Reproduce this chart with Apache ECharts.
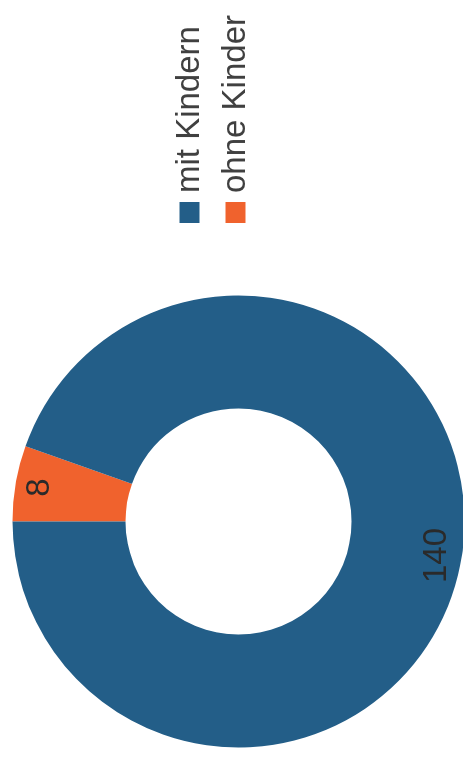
<!DOCTYPE html>
<html>
<head>
<meta charset="utf-8">
<script src="https://cdn.jsdelivr.net/npm/echarts@6/dist/echarts.min.js"></script>
<style>
  html, body { margin: 0; padding: 0; background: #ffffff; overflow: hidden; }
  #wrap { position: relative; width: 463px; height: 759px; overflow: hidden; }
  #chart {
    position: absolute; left: 0; top: 0;
    width: 759px; height: 463px;
    transform-origin: 0 0;
    transform: rotate(-90deg) translate(-759px, 0);
  }
</style>
</head>
<body>
<div id="wrap"><div id="chart"></div></div>
<script>
// Data
const categories = ['mit Kindern', 'ohne Kinder'];
const values = [140, 8];
const colors = ['#235e88', '#f0622d'];

// Drawing order: slice "ohne Kinder" starts at 12 o'clock going clockwise
const drawOrder = [1, 0];
const pieData = drawOrder.map(i => ({
  name: categories[i],
  value: values[i],
  itemStyle: { color: colors[i] }
}));

const chart = echarts.init(document.getElementById('chart'), null, { renderer: 'canvas' });
chart.setOption({
  animation: false,
  backgroundColor: '#ffffff',
  legend: {
    data: categories,
    orient: 'vertical',
    left: 536,
    top: 173,
    padding: 0,
    itemWidth: 21,
    itemHeight: 20,
    itemGap: 13,
    icon: 'rect',
    selectedMode: false,
    textStyle: {
      fontFamily: 'Liberation Sans, Arial, sans-serif',
      fontSize: 33,
      lineHeight: 25,
      color: '#404040',
      padding: [0, 0, 0, 4]
    }
  },
  series: [
    {
      type: 'pie',
      center: [237.5, 238.5],
      radius: [113, 226],
      startAngle: 90,
      clockwise: true,
      silent: true,
      label: { show: false },
      labelLine: { show: false },
      itemStyle: { borderWidth: 0 },
      data: pieData
    },
    {
      type: 'pie',
      center: [237.5, 238.5],
      radius: [170, 226],
      startAngle: 90,
      clockwise: true,
      silent: true,
      legendHoverLink: false,
      itemStyle: { color: 'rgba(0,0,0,0)', borderWidth: 0 },
      label: {
        show: true,
        position: 'inside',
        formatter: '{c}',
        fontFamily: 'Liberation Sans, Arial, sans-serif',
        fontSize: 33,
        color: '#2a2a2a'
      },
      labelLine: { show: false },
      data: pieData.map(d => ({ name: d.name, value: d.value }))
    }
  ]
});
</script>
</body>
</html>
